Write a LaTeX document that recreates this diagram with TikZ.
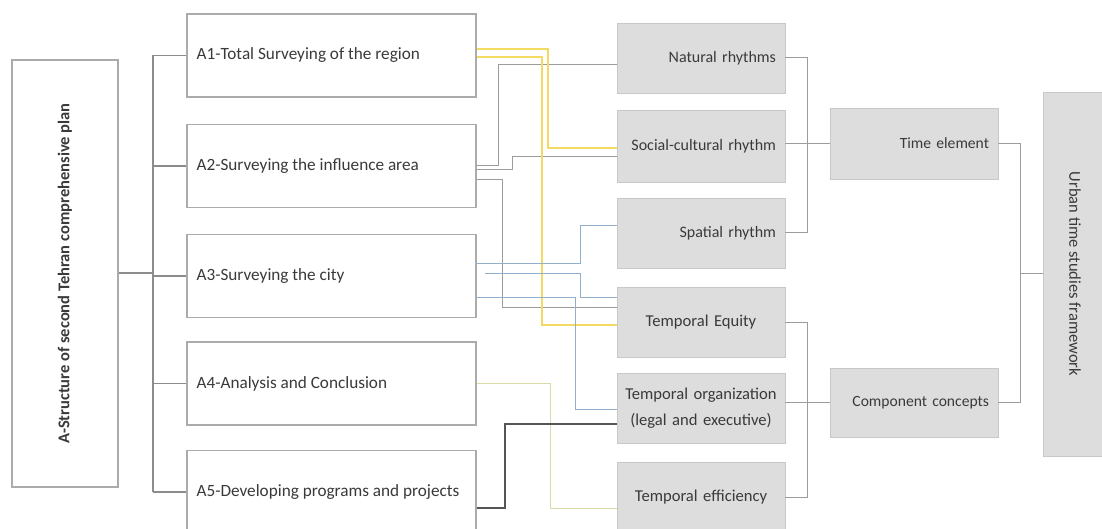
\documentclass[tikz,border=0pt]{standalone}
\usepackage{fontspec}
\setmainfont{Carlito}
\usetikzlibrary{calc}
\definecolor{boxline}{HTML}{ABABAB}
\definecolor{grayfill}{HTML}{DDDDDD}
\definecolor{grayline}{HTML}{C8C8C8}
\definecolor{conn}{HTML}{9C9C9C}
\definecolor{yel}{HTML}{F4D962}
\definecolor{bluec}{HTML}{92B0CC}
\definecolor{olive}{HTML}{DADAA6}
\definecolor{darkc}{HTML}{555555}
\definecolor{txt}{HTML}{3A3A3A}
\tikzset{
  abox/.style={draw=boxline, line width=1.2pt, fill=white, minimum width=289pt, minimum height=83pt},
  atext/.style={anchor=west, inner sep=0pt, font=\fontsize{17.2}{20}\selectfont, text=txt},
  gbox/.style={draw=grayline, line width=0.8pt, fill=grayfill, minimum width=168pt, minimum height=70pt,
     text width=150pt, inner xsep=9pt, align=right, font=\fontsize{16}{20}\selectfont, text=txt},
  tbox/.style={gbox, text width=164pt, inner xsep=2pt, align=center, font=\fontsize{16.6}{26}\selectfont},
  link/.style={draw=conn, line width=1pt},
  trunk/.style={draw=conn!90!black, line width=1.4pt},
  ylink/.style={draw=yel, line width=1.5pt},
  blink/.style={draw=bluec, line width=1pt},
  olink/.style={draw=olive, line width=1pt},
  dlink/.style={draw=darkc, line width=1.5pt},
}
\begin{document}
\begin{tikzpicture}[x=1pt,y=-1pt]
\useasboundingbox[fill=white] (0,0) rectangle (1102,529);
% left box
\node[draw=boxline, line width=1.2pt, fill=white, minimum width=106pt, minimum height=427pt] (left) at (65,273.5) {};
\node[rotate=90, font=\bfseries\fontsize{16.5}{18}\selectfont, text=txt] (lefttxt) at (left.center) {A-Structure of second Tehran comprehensive plan};
% A boxes
\node[abox] (a1) at (331.5,55.5) {};
\node[abox] (a2) at (331.5,166) {};
\node[abox] (a3) at (331.5,276) {};
\node[abox] (a4) at (331.5,383.5) {};
\node[abox] (a5) at (331.5,492) {};
\node[atext] (t1) at ([xshift=10pt]a1.west) {A1-Total Surveying of the region};
\node[atext] (t2) at ([xshift=10pt]a2.west) {A2-Surveying the influence area};
\node[atext] (t3) at ([xshift=10pt]a3.west) {A3-Surveying the city};
\node[atext] (t4) at ([xshift=10pt]a4.west) {A4-Analysis and Conclusion};
\node[atext] (t5) at ([xshift=10pt]a5.west) {A5-Developing programs and projects};
% middle boxes
\node[gbox] (nat) at (701,58) {Natural rhythms};
\node[gbox, minimum height=72pt] (soc) at (701,146) {Social-cultural rhythm};
\node[gbox] (spa) at (701,233) {Spatial rhythm};
\node[tbox] (equ) at (701,322) {Temporal Equity};
\node[tbox] (org) at (701,408) {Temporal organization\\(legal and executive)};
\node[tbox] (eff) at (701,497) {Temporal efficiency};
% right boxes
\node[gbox, minimum height=71pt, font=\fontsize{15.6}{20}\selectfont] (time) at (914,143.5) {Time element};
\node[gbox, minimum height=69pt, font=\fontsize{15.6}{20}\selectfont] (comp) at (914,402.5) {Component concepts};
\node[draw=grayline, line width=0.8pt, fill=grayfill, minimum width=68pt, minimum height=364pt] (frame) at (1077,274) {};
\node[rotate=-90, font=\fontsize{16.5}{18}\selectfont, text=txt] (frametxt) at (1075,274) {Urban time studies framework};
% left tree
\coordinate (tr) at (153,273);
\draw[trunk] (left.east |- tr) -- (tr);
\draw[trunk] (153,55.5) -- (153,492);
\draw[trunk] (153,55.5) -- (a1.west);
\draw[trunk] (153,166) -- (a2.west);
\draw[trunk] (153,276) -- (a3.west);
\draw[trunk] (153,383.5) -- (a4.west);
\draw[trunk] (153,492) -- (a5.west);
% cross connectors
\draw[link] (a2.east |- 0,166) -- (498,166) |- (nat.west |- 0,65);
\draw[link] (a2.east |- 0,170) -- (512,170) |- (soc.west |- 0,157);
\draw[link] (a2.east |- 0,180) -- (502,180) |- (equ.west |- 0,307);
\draw[ylink] (a1.east |- 0,49) -- (548,49) |- (soc.west |- 0,148);
\draw[ylink] (a1.east |- 0,57) -- (542,57) |- (equ.west |- 0,325);
\draw[blink] (a3.east |- 0,263) -- (580,263) |- (spa.west |- 0,226);
\draw[blink] (485,273) -- (580,273) |- (equ.west |- 0,297);
\draw[blink] (a3.east |- 0,297) -- (575,297) |- (org.west |- 0,409);
\draw[olink] (a4.east |- 0,383) -- (550,383) |- (eff.west |- 0,508);
\draw[dlink] (a5.east |- 0,508) -- (505,508) |- (org.west |- 0,424);
% right tree
\draw[link] (nat.east) -- (807,58) -- (807,233) -- (spa.east);
\draw[link] (soc.east |- time.west) -- (time.west);
\draw[link] (equ.east) -- (807,322) -- (807,497) -- (eff.east);
\draw[link] (org.east |- comp.west) -- (comp.west);
\draw[link] (time.east) -- (1020,143.5) -- (1020,402.5) -- (comp.east);
\draw[link] (1020,273) -- (frame.west |- 0,273);
\end{tikzpicture}
\end{document}
